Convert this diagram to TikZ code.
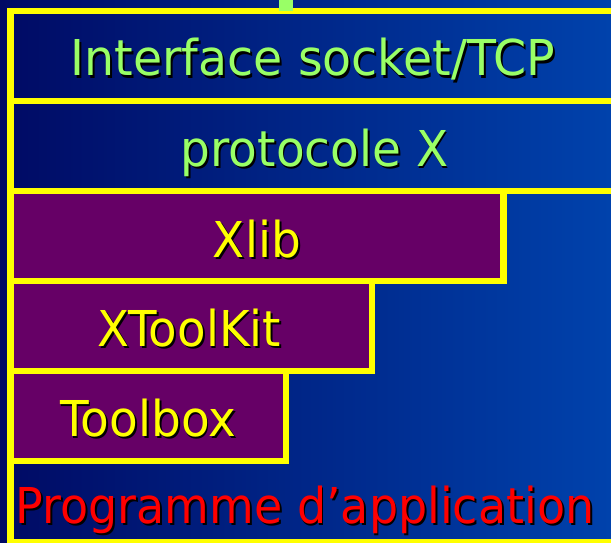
\documentclass[tikz,border=0pt]{standalone}
\usepackage{fontspec}
\setmainfont{DejaVu Sans}
\usepackage{graphicx}
\definecolor{bgL}{RGB}{0,10,100}
\definecolor{bgR}{RGB}{0,66,172}
\definecolor{frameY}{RGB}{255,255,0}
\definecolor{boxP}{RGB}{102,0,102}
\definecolor{txtG}{RGB}{153,255,102}
\definecolor{txtR}{RGB}{255,0,0}
\definecolor{txtY}{RGB}{255,255,0}
\newcommand\shadowtxt[3]{\scalebox{#1}[1]{\rlap{\kern2pt\raisebox{-2pt}{\color{black}#3}}{\color{#2}#3}}}
\tikzset{
  frame/.style={draw=frameY, line width=6.8pt},
  layerbox/.style={frame, fill=boxP},
  lbl/.style={font=\fontsize{49.4}{59}\selectfont, inner sep=0pt, anchor=base},
}
\begin{document}
\begin{tikzpicture}[x=1pt,y=-1pt]
\useasboundingbox (0,0) rectangle (611,543);
\shade[left color=bgL, right color=bgR] (0,0) rectangle (611,543);
\begin{scope}
\clip (0,0) rectangle (611,543);
\draw[frame] (10.5,11) rectangle (640,542);
\draw[frame] (10.5,101) -- (640,101);
\draw[frame] (10.5,191) -- (640,191);
\draw[layerbox] (10.5,191) rectangle (503.5,281);
\draw[layerbox] (10.5,281) rectangle (372,371);
\draw[layerbox] (10.5,371) rectangle (286,461);
\fill[txtG] (279.3,0) rectangle (292.7,10.7);
\end{scope}
\node[lbl] (iface) at (313,76) {\shadowtxt{0.96}{txtG}{Interface socket/TCP}};
\node[lbl] (proto) at (314.5,166) {\shadowtxt{0.95}{txtG}{protocole X}};
\node[lbl] (xlib) at (257,257) {\shadowtxt{0.95}{txtY}{Xlib}};
\node[lbl] (xtk) at (189,346) {\shadowtxt{0.945}{txtY}{XToolKit}};
\node[lbl] (tbox) at (148,436) {\shadowtxt{0.95}{txtY}{Toolbox}};
\node[lbl] (prog) at (305,523) {\shadowtxt{0.93}{txtR}{Programme d’application}};
\end{tikzpicture}
\end{document}
